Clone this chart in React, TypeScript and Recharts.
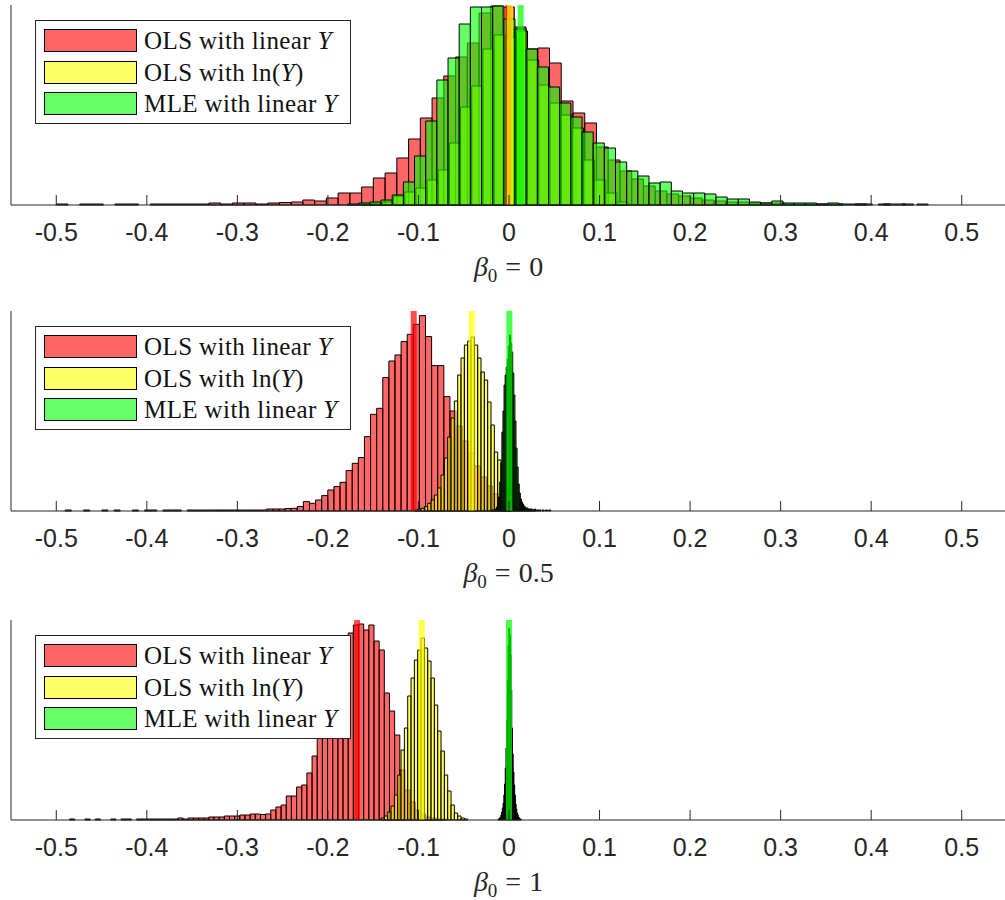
import React from 'react'
import { ComposedChart, XAxis, YAxis, ReferenceArea, ReferenceLine } from 'recharts'

const X_TICKS = [-0.5, -0.4, -0.3, -0.2, -0.1, 0, 0.1, 0.2, 0.3, 0.4, 0.5]
const TICK_LABELS = ['-0.5', '-0.4', '-0.3', '-0.2', '-0.1', '0', '0.1', '0.2', '0.3', '0.4', '0.5']

const RED = '#ff0000'
const YELLOW = '#ffff00'
const GREEN = '#00ff00'

// beta0 = 0
const P1_RED_START = -0.5
const P1_RED_WIDTH = 0.01297
const P1_RED = [
  1, 0, 1, 1, 0, 1, 1, 0, 1, 1, 1, 1, 1, 2, 1, 2, 2, 1, 2, 2.5,
  3, 5, 4, 7, 12, 12, 18, 27, 32, 47, 66, 87, 107, 129, 148, 162, 192, 199, 198, 178, 156, 157, 142, 104, 92, 82,
  58, 45, 34, 26, 19, 14, 11, 9, 7, 5, 4, 3, 3, 2, 2, 2, 1, 1, 1, 1, 1, 0, 1, 0, 1, 0, 1,
]
const P1_YELLOW_START = -0.1768
const P1_YELLOW_WIDTH = 0.01233
const P1_YELLOW = [0, 1, 1, 3, 9, 13, 17, 25, 35, 62, 98, 119, 156, 170, 168, 174, 145, 120, 102, 90, 77, 45, 25, 12, 3]
const P1_GREEN_START = -0.1783
const P1_GREEN_WIDTH = 0.01233
const P1_GREEN = [
  1, 2, 3, 5, 10, 23, 49, 84, 125, 147, 181, 198, 198, 199, 186, 176, 156, 138, 118, 102, 88, 73, 62, 57, 43, 34,
  29, 22, 23, 14, 12, 12, 11, 8, 6, 6, 3, 2, 4, 2, 2, 2, 1, 2, 1, 1, 1, 0, 1, 1, 0, 1,
]
const P1_MEANS = [-0.0006, 0.0011, 0.0129]

// beta0 = 0.5
const P2_RED_START = -0.4969
const P2_RED_WIDTH = 0.006745
const P2_RED = [
  0, 1, 0, 0, 1, 0, 0, 1, 0, 1, 0, 0, 1, 0, 1, 1, 0, 1, 1, 1, 0, 1, 1, 1, 1, 1, 1, 1, 1, 1, 1, 1, 1, 1, 2, 2, 2, 2.5,
  2.7, 4.4, 9.4, 7.7, 11, 15.4, 21, 24.4, 28.7, 40.4, 47.7, 53.4, 74.4, 96.7, 102.7, 133.4, 150, 156, 169.4, 176.7,
  186.7, 195.4, 174.4, 145.4, 145.4, 114.4, 100,
  85, 70, 58, 45, 34, 25, 17, 11, 7, 4, 2, 1, 1,
]
const P2_YELLOW_START = -0.1045
const P2_YELLOW_WIDTH = 0.00368
const P2_YELLOW = [
  1, 2, 2.7, 4.4, 7.7, 11, 16, 23, 36, 53, 74, 93, 110, 136, 153, 166, 170, 174, 166, 153, 139, 131, 109, 86, 59, 51,
  20, 6, 2,
]
const P2_GREEN_START = -0.01987
const P2_GREEN_WIDTH = 0.0012
const P2_GREEN = [
  1, 1, 1, 2, 2, 4, 7, 14, 29, 48, 79, 100, 126, 136, 144, 152, 165, 176, 168, 159, 138, 116, 90, 63, 44, 27, 18, 12,
  9, 7, 5, 4, 3, 3, 2, 2, 2, 2, 1, 1, 2, 1, 1, 1, 1, 1, 0, 1, 1, 0, 1, 1, 0, 1, 1,
]
const P2_MEANS = [-0.1052, -0.0412, 0.0004]

// beta0 = 1
const P3_RED_START = -0.4968
const P3_RED_WIDTH = 0.0057
const P3_RED = [
  0, 0, 1, 0, 0, 1, 0, 1, 0, 0, 1, 0, 1, 1, 0, 1, 1, 1, 1, 1, 1, 1,
  1, 2, 1, 2, 2, 2, 2, 3, 3, 3, 4, 4, 4, 5, 5, 6,
  6, 5.5, 6, 10, 13, 15, 24, 24, 33, 35, 47, 64,
  82, 96, 110, 128, 145, 168, 187, 195, 196, 190, 195, 179, 170, 127, 109, 85, 50, 30, 18, 10, 6, 3, 2, 1, 1,
]
const P3_YELLOW_START = -0.1413
const P3_YELLOW_WIDTH = 0.00368
const P3_YELLOW = [2, 4, 8, 14, 25, 45, 70, 92, 124, 142, 160, 170, 182, 172, 159, 142, 115, 89, 69, 45, 29, 15, 7, 4, 2, 1]
const P3_GREEN_START = -0.01214
const P3_GREEN_WIDTH = 0.0008
const P3_GREEN = [
  1, 1, 2, 3, 5, 8, 12, 17, 25, 36, 52, 72, 100, 140, 175, 192, 185, 165, 130, 92, 66, 48, 35, 25, 16, 11, 7, 5, 3, 2,
  1, 1,
]
const P3_MEANS = [-0.1678, -0.0964, 0.0]

const LEGEND = [
  { pre: 'OLS with linear ', it: 'Y', post: '', swatch: '#ff6666' },
  { pre: 'OLS with ln(', it: 'Y', post: ')', swatch: '#ffff66' },
  { pre: 'MLE with linear ', it: 'Y', post: '', swatch: '#66ff66' },
]

type Hist = { start: number; width: number; counts: number[]; color: string }

const PANELS = [
  {
    beta: '0',
    top: 0,
    hists: [
      { start: P1_RED_START, width: P1_RED_WIDTH, counts: P1_RED, color: RED },
      { start: P1_YELLOW_START, width: P1_YELLOW_WIDTH, counts: P1_YELLOW, color: YELLOW },
      { start: P1_GREEN_START, width: P1_GREEN_WIDTH, counts: P1_GREEN, color: GREEN },
    ],
    means: P1_MEANS,
  },
  {
    beta: '0.5',
    top: 306,
    hists: [
      { start: P2_RED_START, width: P2_RED_WIDTH, counts: P2_RED, color: RED },
      { start: P2_YELLOW_START, width: P2_YELLOW_WIDTH, counts: P2_YELLOW, color: YELLOW },
      { start: P2_GREEN_START, width: P2_GREEN_WIDTH, counts: P2_GREEN, color: GREEN },
    ],
    means: P2_MEANS,
  },
  {
    beta: '1',
    top: 615,
    hists: [
      { start: P3_RED_START, width: P3_RED_WIDTH, counts: P3_RED, color: RED },
      { start: P3_YELLOW_START, width: P3_YELLOW_WIDTH, counts: P3_YELLOW, color: YELLOW },
      { start: P3_GREEN_START, width: P3_GREEN_WIDTH, counts: P3_GREEN, color: GREEN },
    ],
    means: P3_MEANS,
  },
]

const MEAN_COLORS = [RED, YELLOW, GREEN]
const SERIF = "'Liberation Serif', 'Times New Roman', serif"

const binsOf = (h: Hist) =>
  h.counts.map((c, i) => ({ x1: h.start + i * h.width, x2: h.start + (i + 1) * h.width, x: h.start + (i + 0.5) * h.width, y: c }))

// inward tick + label below the axis
const AxisTick = (props: any) => {
  const { x, y, payload } = props
  const idx = X_TICKS.indexOf(payload.value)
  return (
    <g>
      <line x1={x} x2={x} y1={y} y2={y - 10} stroke="#262626" strokeWidth={1} />
      <text
        x={x}
        y={y + 36}
        textAnchor="middle"
        fontFamily="'Liberation Sans', Arial, sans-serif"
        fontSize={25}
        fill="#262626"
      >
        {idx >= 0 ? TICK_LABELS[idx] : payload.value}
      </text>
    </g>
  )
}

const Panel = ({ panel }: { panel: (typeof PANELS)[number] }) => {
  const rows = panel.hists.flatMap((h) => binsOf(h).map((b) => ({ x: b.x, y: b.y })))
  return (
    <div style={{ position: 'absolute', left: 0, top: panel.top, width: 1010, height: 300 }}>
      <ComposedChart width={1010} height={300} data={rows} margin={{ top: 5, right: 3, left: 10, bottom: 0 }}>
        <XAxis
          dataKey="x"
          type="number"
          domain={[-0.55, 0.55]}
          allowDataOverflow
          ticks={X_TICKS}
          interval={0}
          tickSize={0}
          tickMargin={0}
          tick={<AxisTick />}
          height={95}
          axisLine={{ stroke: '#262626' }}
        />
        <YAxis
          type="number"
          domain={[0, 200]}
          allowDataOverflow
          width={1}
          tick={false}
          tickLine={false}
          axisLine={{ stroke: '#262626' }}
        />
        {panel.hists.map((h, hi) =>
          binsOf(h)
            .filter((b) => b.y > 0)
            .map((b, i) => (
              <ReferenceArea
                key={`h${hi}-${i}`}
                x1={b.x1}
                x2={b.x2}
                y1={0}
                y2={b.y}
                fill={h.color}
                fillOpacity={0.6}
                stroke="#000"
                strokeWidth={1}
                ifOverflow="visible"
              />
            )),
        )}
        {panel.means.map((m, i) => (
          <ReferenceLine key={`m${i}`} x={m} stroke={MEAN_COLORS[i]} strokeWidth={6} strokeOpacity={0.7} />
        ))}
      </ComposedChart>
      <div
        style={{
          position: 'absolute',
          left: 35,
          top: 20,
          width: 316,
          height: 104,
          boxSizing: 'border-box',
          border: '1px solid #262626',
          background: '#fff',
        }}
      >
        {LEGEND.map((l, i) => (
          <div
            key={i}
            style={{ position: 'absolute', left: 8, top: 8 + i * 31.7, height: 23, display: 'flex', alignItems: 'center' }}
          >
            <div style={{ width: 93, height: 23, boxSizing: 'border-box', border: '1.3px solid #000', background: l.swatch }} />
            <div
              style={{
                marginLeft: 7,
                fontFamily: SERIF,
                fontSize: 25,
                letterSpacing: 0.4,
                color: '#111',
                whiteSpace: 'nowrap',
                lineHeight: '23px',
              }}
            >
              {l.pre}
              <i>{l.it}</i>
              {l.post}
            </div>
          </div>
        ))}
      </div>
      <div
        style={{
          position: 'absolute',
          left: 0,
          width: 1017,
          top: 251,
          textAlign: 'center',
          fontFamily: SERIF,
          fontSize: 28,
          lineHeight: '32px',
          color: '#262626',
        }}
      >
        <i>β</i>
        <sub style={{ fontSize: 19, verticalAlign: '-6px' }}>0</sub>
        <span style={{ margin: '0 8px' }}>=</span>
        {panel.beta}
      </div>
    </div>
  )
}

export default function App() {
  return (
    <div style={{ position: 'relative', width: 1005, height: 900, overflow: 'hidden', background: '#fff' }}>
      <style>{'body{margin:0;}'}</style>
      {PANELS.map((p, i) => (
        <Panel key={i} panel={p} />
      ))}
    </div>
  )
}
